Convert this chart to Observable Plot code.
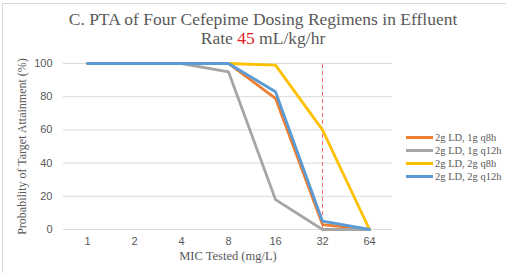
<!DOCTYPE html>
<html><head><meta charset="utf-8">
<script src="https://cdn.jsdelivr.net/npm/d3@7"></script>
<script src="https://cdn.jsdelivr.net/npm/@observablehq/plot@0.6"></script>
<style>
body{margin:0;background:#fff;}
#wrap{position:relative;width:506px;height:273px;overflow:hidden;background:#fff;}
#frame{position:absolute;left:2px;top:3px;width:510px;height:280px;border:1px solid #d9d9d9;box-sizing:border-box;}
#title{position:absolute;left:0;top:10px;width:526px;text-align:center;font-family:"Liberation Serif","Times New Roman",serif;font-size:17.5px;line-height:19px;color:#595959;}
#title .red{color:#e02020;}
#chart{position:absolute;left:0;top:50px;}
#legend{position:absolute;left:406px;top:131px;font-family:"Liberation Serif","Times New Roman",serif;font-size:10.5px;color:#595959;white-space:nowrap;}
#legend div{height:13px;line-height:13px;display:flex;align-items:center;}
#legend span.sw{display:inline-block;width:27px;height:3px;margin-right:2px;}
</style></head>
<body>
<div id="wrap">
<div id="frame"></div>
<div id="title">C. PTA of Four Cefepime Dosing Regimens in Effluent<br>Rate <span class="red">45</span> mL/kg/hr</div>
<div id="chart"></div>
<div id="legend"></div>
</div>
<script>
const mic = ["1","2","4","8","16","32","64"];
const series = ["2g LD, 1g q8h","2g LD, 1g q12h","2g LD, 2g q8h","2g LD, 2g q12h"];
const colors = ["#ED7D31","#A5A5A5","#FFC000","#5B9BD5"];
const pta1gq8h  = [100,100,100,100,79,3,0];
const pta1gq12h = [100,100,100,95,18,0,0];
const pta2gq8h  = [100,100,100,100,99,60,0];
const pta2gq12h = [100,100,100,100,83,5,0];
const yTicks = [0,20,40,60,80,100];
const breakpoint = ["32"];

const values = [pta1gq8h,pta1gq12h,pta2gq8h,pta2gq12h];
const data = series.flatMap((s,i)=>mic.map((m,j)=>({series:s,mic:m,pta:values[i][j]})));

const chart = Plot.plot({
  width:506, height:223,
  marginLeft:63, marginRight:114, marginTop:13, marginBottom:44,
  style:{fontFamily:"Liberation Sans, Arial, sans-serif", fontSize:"11px", color:"#595959", background:"transparent"},
  x:{type:"point", domain:mic, padding:0.5},
  y:{domain:[0,100]},
  color:{domain:series, range:colors},
  marks:[
    Plot.gridY(yTicks,{stroke:"#d9d9d9", strokeOpacity:1, strokeWidth:1}),
    Plot.axisY(yTicks,{tickSize:0, tickPadding:11, label:null, fill:"#595959"}),
    Plot.axisX(mic,{tickSize:0, tickPadding:8, label:null, fill:"#595959"}),
    Plot.ruleX(breakpoint,{y1:0,y2:100,stroke:"#ff6b6b",strokeWidth:1,strokeDasharray:"4,3"}),
    Plot.lineY(data,{x:"mic",y:"pta",z:"series",stroke:"series",strokeWidth:2.8,strokeLinejoin:"miter"}),
    Plot.text(["Probability of Target Attainment (%)"],{frameAnchor:"left",textAnchor:"middle",dx:-41,rotate:-90,fontFamily:"Liberation Serif, serif",fontSize:12,fill:"#595959"}),
    Plot.text(["MIC Tested (mg/L)"],{frameAnchor:"bottom",dy:30,fontFamily:"Liberation Serif, serif",fontSize:12.5,fill:"#595959"})
  ]
});
document.getElementById("chart").appendChild(chart);

const leg = document.getElementById("legend");
series.forEach((s,i)=>{
  const d=document.createElement("div");
  d.innerHTML=`<span class="sw" style="background:${colors[i]}"></span>${s}`;
  leg.appendChild(d);
});
</script>
</body></html>
